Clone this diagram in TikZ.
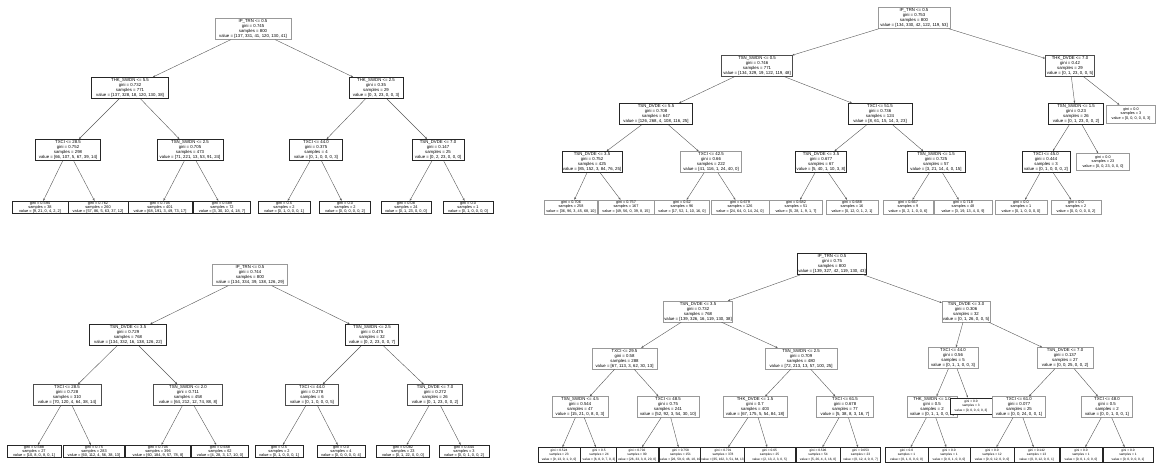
\documentclass[tikz,border=0pt]{standalone}
\usepackage{fontspec}
\setmainfont{Liberation Sans}
\usetikzlibrary{arrows.meta}
\tikzset{
  box/.style={draw=black!70, line width=0.5pt, fill=white, align=center, inner sep=0.6pt,
    font=\fontsize{4.3}{5.0}\selectfont, minimum height=21pt},
  lf/.style={box, font=\fontsize{3.9}{3.8}\selectfont, minimum height=11.5pt},
  trl/.style={box, font=\fontsize{3.8}{4.1}\selectfont, minimum height=14pt},
  brl/.style={box, font=\fontsize{3.2}{4.3}\selectfont, minimum height=15pt},
  lt/.style={draw=black!40, line width=0.4pt},
  hv/.style={draw=black!85, line width=0.9pt},
  bw/.style={minimum width=#1pt},
  con/.style={draw=black!65, line width=0.4pt, -{Stealth[length=2.4pt,width=1.9pt]}},
}
\begin{document}
\begin{tikzpicture}[x=1pt,y=-1pt]
\fill[white] (0,0) rectangle (1159,466);
\useasboundingbox (0,0) rectangle (1159,466);

% ---------------- Top-left tree ----------------
\node[box,lt,bw=76] (tl0) at (253,29) {IP\_TRN <= 0.5\\gini = 0.745\\samples = 800\\value = [137, 331, 41, 120, 130, 41]};
\node[box,hv,bw=77] (tl1) at (130,88) {THK\_SWDN <= 5.5\\gini = 0.732\\samples = 771\\value = [137, 328, 18, 120, 130, 38]};
\node[box,hv,bw=54] (tl2) at (376,88) {THK\_SWDN <= 2.5\\gini = 0.35\\samples = 29\\value = [0, 3, 23, 0, 0, 3]};
\node[box,hv,bw=65] (tl3) at (68,150) {TXCI <= 28.5\\gini = 0.752\\samples = 298\\value = [66, 107, 5, 67, 39, 14]};
\node[box,hv,bw=66] (tl4) at (190,150) {TSN\_SWDN <= 2.5\\gini = 0.705\\samples = 473\\value = [71, 221, 13, 53, 91, 24]};
\node[box,hv,bw=53] (tl5) at (316,150) {TXCI <= 44.0\\gini = 0.375\\samples = 4\\value = [0, 1, 0, 0, 0, 3]};
\node[box,hv,bw=52] (tl6) at (438,150) {TSN\_DVDE <= 7.0\\gini = 0.147\\samples = 25\\value = [0, 2, 23, 0, 0, 0]};
\node[lf,hv,bw=56] (tl7) at (40,207.5) {gini = 0.594\\samples = 38\\value = [9, 21, 0, 4, 2, 2]};
\node[lf,hv,bw=60] (tl8) at (98,207.5) {gini = 0.762\\samples = 260\\value = [57, 86, 5, 63, 37, 12]};
\node[lf,hv,bw=64] (tl9) at (160,207.5) {gini = 0.705\\samples = 401\\value = [68, 191, 3, 49, 73, 17]};
\node[lf,hv,bw=57] (tl10) at (222,207.5) {gini = 0.589\\samples = 72\\value = [3, 30, 10, 4, 18, 7]};
\node[lf,hv,bw=52] (tl11) at (284,207.5) {gini = 0.5\\samples = 2\\value = [0, 1, 0, 0, 0, 1]};
\node[lf,hv,bw=51] (tl12) at (345,207.5) {gini = 0.0\\samples = 2\\value = [0, 0, 0, 0, 0, 2]};
\node[lf,hv,bw=50] (tl13) at (406,207.5) {gini = 0.08\\samples = 24\\value = [0, 1, 23, 0, 0, 0]};
\node[lf,hv,bw=50] (tl14) at (468,207.5) {gini = 0.0\\samples = 1\\value = [0, 1, 0, 0, 0, 0]};
\foreach \a/\b in {tl0/tl1,tl0/tl2,tl1/tl3,tl1/tl4,tl2/tl5,tl2/tl6,tl3/tl7,tl3/tl8,tl4/tl9,tl4/tl10,tl5/tl11,tl5/tl12,tl6/tl13,tl6/tl14}
  \draw[con] (\a) -- (\b);

% ---------------- Top-right tree ----------------
\node[box,lt,bw=72] (tr0) at (914,18) {IP\_TRN <= 0.5\\gini = 0.753\\samples = 800\\value = [134, 330, 42, 122, 119, 53]};
\node[box,bw=71] (tr1) at (757,66) {TSN\_SWDN <= 0.5\\gini = 0.746\\samples = 771\\value = [134, 329, 19, 122, 119, 48]};
\node[box,bw=49] (tr2) at (1070,66) {THK\_DVDE <= 7.0\\gini = 0.42\\samples = 29\\value = [0, 1, 23, 0, 0, 5]};
\node[box,hv,bw=73] (tr3) at (656,114) {TSN\_DVDE <= 5.5\\gini = 0.708\\samples = 647\\value = [126, 268, 4, 108, 116, 25]};
\node[box,hv,bw=64] (tr4) at (880,114) {TXCI <= 51.5\\gini = 0.736\\samples = 124\\value = [8, 61, 15, 14, 3, 23]};
\node[box,hv,bw=55] (tr5) at (1076,114) {TSN\_SWDN <= 1.5\\gini = 0.23\\samples = 26\\value = [0, 1, 23, 0, 0, 2]};
\node[trl,lt,bw=49,minimum height=18pt] (tr6) at (1131,114) {gini = 0.0\\samples = 3\\value = [0, 0, 0, 0, 0, 3]};
\node[box,hv,bw=60] (tr7) at (592,162) {TSN\_DVDE <= 3.5\\gini = 0.752\\samples = 425\\value = [85, 152, 3, 84, 76, 25]};
\node[box,lt,bw=61] (tr8) at (711,162) {TXCI <= 42.5\\gini = 0.66\\samples = 222\\value = [41, 116, 1, 24, 40, 0]};
\node[box,hv,bw=51] (tr9) at (821,162) {TSN\_DVDE <= 3.5\\gini = 0.677\\samples = 67\\value = [5, 40, 1, 10, 3, 8]};
\node[box,hv,bw=58] (tr10) at (936,162) {TSN\_SWDN <= 1.5\\gini = 0.725\\samples = 57\\value = [3, 21, 14, 4, 0, 15]};
\node[box,hv,bw=48] (tr11) at (1046,162) {TXCI <= 45.0\\gini = 0.444\\samples = 3\\value = [0, 1, 0, 0, 0, 2]};
\node[trl,lt,bw=53,minimum height=17pt] (tr12) at (1103,162) {gini = 0.0\\samples = 23\\value = [0, 0, 23, 0, 0, 0]};
\node[trl,lt,bw=53] (tr13) at (571,207) {gini = 0.706\\samples = 258\\value = [36, 96, 3, 45, 68, 10]};
\node[trl,lt,bw=56] (tr14) at (626,207) {gini = 0.757\\samples = 167\\value = [49, 56, 0, 39, 8, 15]};
\node[trl,lt,bw=55] (tr15) at (682,207) {gini = 0.62\\samples = 96\\value = [17, 52, 1, 10, 16, 0]};
\node[trl,lt,bw=58] (tr16) at (740,207) {gini = 0.679\\samples = 126\\value = [24, 64, 0, 14, 24, 0]};
\node[trl,lt,bw=53] (tr17) at (796,207) {gini = 0.682\\samples = 51\\value = [5, 28, 1, 9, 1, 7]};
\node[trl,lt,bw=52] (tr18) at (852,207) {gini = 0.688\\samples = 16\\value = [0, 12, 0, 1, 2, 1]};
\node[trl,lt,bw=50] (tr19) at (908,207) {gini = 0.667\\samples = 9\\value = [0, 2, 1, 0, 0, 6]};
\node[trl,lt,bw=58] (tr20) at (963,207) {gini = 0.718\\samples = 48\\value = [3, 19, 13, 4, 0, 9]};
\node[trl,lt,bw=52] (tr21) at (1021,207) {gini = 0.0\\samples = 1\\value = [0, 1, 0, 0, 0, 0]};
\node[trl,lt,bw=50] (tr22) at (1076,207) {gini = 0.0\\samples = 2\\value = [0, 0, 0, 0, 0, 2]};
\foreach \a/\b in {tr0/tr1,tr0/tr2,tr1/tr3,tr1/tr4,tr2/tr5,tr2/tr6,tr3/tr7,tr3/tr8,tr4/tr9,tr4/tr10,tr5/tr11,tr5/tr12,tr7/tr13,tr7/tr14,tr8/tr15,tr8/tr16,tr9/tr17,tr9/tr18,tr10/tr19,tr10/tr20,tr11/tr21,tr11/tr22}
  \draw[con] (\a) -- (\b);

% ---------------- Bottom-left tree ----------------
\node[box,lt,bw=75] (bl0) at (250,275) {IP\_TRN <= 0.5\\gini = 0.744\\samples = 800\\value = [134, 334, 39, 138, 126, 29]};
\node[box,hv,bw=77] (bl1) at (128,335) {TSN\_DVDE <= 3.5\\gini = 0.729\\samples = 768\\value = [134, 332, 16, 138, 126, 22]};
\node[box,hv,bw=53] (bl2) at (372,335) {TSN\_SWDN <= 2.5\\gini = 0.475\\samples = 32\\value = [0, 2, 23, 0, 0, 7]};
\node[box,bw=68] (bl3) at (67,395) {TXCI <= 28.5\\gini = 0.728\\samples = 310\\value = [70, 120, 4, 64, 38, 14]};
\node[box,bw=69] (bl4) at (188,395) {TSN\_SWDN <= 2.0\\gini = 0.711\\samples = 458\\value = [64, 212, 12, 74, 88, 8]};
\node[box,bw=53] (bl5) at (312,395) {TXCI <= 44.0\\gini = 0.278\\samples = 6\\value = [0, 1, 0, 0, 0, 5]};
\node[box,bw=55] (bl6) at (435,395) {TSN\_DVDE <= 7.0\\gini = 0.272\\samples = 26\\value = [0, 1, 23, 0, 0, 2]};
\node[lf,hv,bw=54] (bl7) at (34,451.5) {gini = 0.588\\samples = 27\\value = [10, 8, 0, 8, 0, 1]};
\node[lf,hv,bw=61] (bl8) at (94,451.5) {gini = 0.75\\samples = 283\\value = [60, 112, 4, 56, 38, 13]};
\node[lf,hv,bw=65] (bl9) at (158,451.5) {gini = 0.705\\samples = 396\\value = [60, 184, 9, 57, 78, 8]};
\node[lf,hv,bw=57] (bl10) at (220,451.5) {gini = 0.658\\samples = 62\\value = [4, 28, 3, 17, 10, 0]};
\node[lf,hv,bw=48] (bl11) at (279,451.5) {gini = 0.5\\samples = 2\\value = [0, 1, 0, 0, 0, 1]};
\node[lf,hv,bw=48] (bl12) at (341,451.5) {gini = 0.0\\samples = 4\\value = [0, 0, 0, 0, 0, 4]};
\node[lf,hv,bw=53] (bl13) at (403,451.5) {gini = 0.082\\samples = 23\\value = [0, 1, 22, 0, 0, 0]};
\node[lf,hv,bw=50] (bl14) at (464,451.5) {gini = 0.444\\samples = 3\\value = [0, 0, 1, 0, 0, 2]};
\foreach \a/\b in {bl0/bl1,bl0/bl2,bl1/bl3,bl1/bl4,bl2/bl5,bl2/bl6,bl3/bl7,bl3/bl8,bl4/bl9,bl4/bl10,bl5/bl11,bl5/bl12,bl6/bl13,bl6/bl14}
  \draw[con] (\a) -- (\b);

% ---------------- Bottom-right tree ----------------
\node[box,hv,bw=69] (br0) at (832,263.5) {IP\_TRN <= 0.5\\gini = 0.75\\samples = 800\\value = [139, 327, 42, 119, 130, 43]};
\node[box,lt,bw=69] (br1) at (698,311.5) {TSN\_DVDE <= 3.5\\gini = 0.732\\samples = 768\\value = [139, 326, 16, 119, 130, 38]};
\node[box,lt,bw=48] (br2) at (966,311.5) {TSN\_DVDE <= 3.0\\gini = 0.306\\samples = 32\\value = [0, 1, 26, 0, 0, 5]};
\node[box,lt,bw=65] (br3) at (624.5,358.5) {TXCI <= 29.5\\gini = 0.58\\samples = 288\\value = [67, 113, 3, 62, 30, 13]};
\node[box,lt,bw=72] (br4) at (801,358.5) {TSN\_SWDN <= 2.5\\gini = 0.709\\samples = 480\\value = [72, 213, 13, 57, 100, 25]};
\node[box,lt,bw=50] (br5) at (953,358) {TXCI <= 44.0\\gini = 0.56\\samples = 5\\value = [0, 1, 1, 0, 0, 3]};
\node[box,lt,bw=56] (br6) at (1065,358) {TSN\_DVDE <= 7.0\\gini = 0.137\\samples = 27\\value = [0, 0, 25, 0, 0, 2]};
\node[box,lt,bw=56] (br7) at (580,407) {TSN\_SWDN <= 4.5\\gini = 0.544\\samples = 47\\value = [15, 21, 0, 8, 0, 3]};
\node[box,lt,bw=62] (br8) at (668,407) {TXCI <= 48.5\\gini = 0.75\\samples = 241\\value = [52, 92, 3, 54, 30, 10]};
\node[box,lt,bw=64] (br9) at (755,407) {THK\_DVDE <= 1.5\\gini = 0.7\\samples = 403\\value = [67, 175, 5, 54, 84, 18]};
\node[box,lt,bw=57] (br10) at (845,407) {TXCI <= 61.5\\gini = 0.678\\samples = 77\\value = [5, 38, 8, 3, 16, 7]};
\node[box,lt,bw=50] (br11) at (932,407) {THK\_SWDN <= 1.0\\gini = 0.5\\samples = 2\\value = [0, 1, 1, 0, 0, 0]};
\node[brl,hv,bw=42,minimum height=16pt] (br12) at (971,406) {gini = 0.0\\samples = 3\\value = [0, 0, 0, 0, 0, 3]};
\node[box,lt,bw=53] (br13) at (1019,407) {TXCI <= 61.0\\gini = 0.077\\samples = 25\\value = [0, 0, 24, 0, 0, 1]};
\node[box,lt,bw=51] (br14) at (1107,407) {TXCI <= 48.0\\gini = 0.5\\samples = 2\\value = [0, 0, 1, 0, 0, 1]};
\node[brl,hv,bw=42] (br15) at (559,455) {gini = 0.524\\samples = 23\\value = [9, 13, 0, 1, 0, 0]};
\node[brl,hv,bw=38] (br16) at (599,455) {gini = 0.5\\samples = 24\\value = [6, 8, 0, 7, 0, 3]};
\node[brl,hv,bw=42] (br17) at (637,455) {gini = 0.702\\samples = 90\\value = [26, 33, 3, 8, 20, 0]};
\node[brl,hv,bw=43] (br18) at (680.5,455) {gini = 0.758\\samples = 151\\value = [26, 59, 0, 46, 10, 10]};
\node[brl,hv,bw=41] (br19) at (723,455) {gini = 0.701\\samples = 378\\value = [65, 162, 3, 51, 84, 13]};
\node[brl,hv,bw=51] (br20) at (769.5,455) {gini = 0.65\\samples = 25\\value = [2, 13, 2, 3, 0, 5]};
\node[brl,hv,bw=44] (br21) at (818,455) {gini = 0.596\\samples = 54\\value = [5, 26, 4, 3, 16, 0]};
\node[brl,hv,bw=40] (br22) at (860.5,455) {gini = 0.653\\samples = 23\\value = [0, 12, 4, 0, 0, 7]};
\node[brl,hv,bw=43] (br23) at (906.5,455) {gini = 0.0\\samples = 1\\value = [0, 1, 0, 0, 0, 0]};
\node[brl,hv,bw=42] (br24) at (949,455) {gini = 0.0\\samples = 1\\value = [0, 0, 1, 0, 0, 0]};
\node[brl,hv,bw=44] (br25) at (992,455) {gini = 0.0\\samples = 12\\value = [0, 0, 12, 0, 0, 0]};
\node[brl,hv,bw=45] (br26) at (1036.5,455) {gini = 0.142\\samples = 13\\value = [0, 0, 12, 0, 0, 1]};
\node[brl,hv,bw=42] (br27) at (1081,455) {gini = 0.0\\samples = 1\\value = [0, 0, 1, 0, 0, 0]};
\node[brl,hv,bw=50] (br28) at (1128,455) {gini = 0.0\\samples = 1\\value = [0, 0, 0, 0, 0, 1]};
\foreach \a/\b in {br0/br1,br0/br2,br1/br3,br1/br4,br2/br5,br2/br6,br3/br7,br3/br8,br4/br9,br4/br10,br5/br11,br5/br12,br6/br13,br6/br14,br7/br15,br7/br16,br8/br17,br8/br18,br9/br19,br9/br20,br10/br21,br10/br22,br11/br23,br11/br24,br13/br25,br13/br26,br14/br27,br14/br28}
  \draw[con] (\a) -- (\b);
\end{tikzpicture}
\end{document}
